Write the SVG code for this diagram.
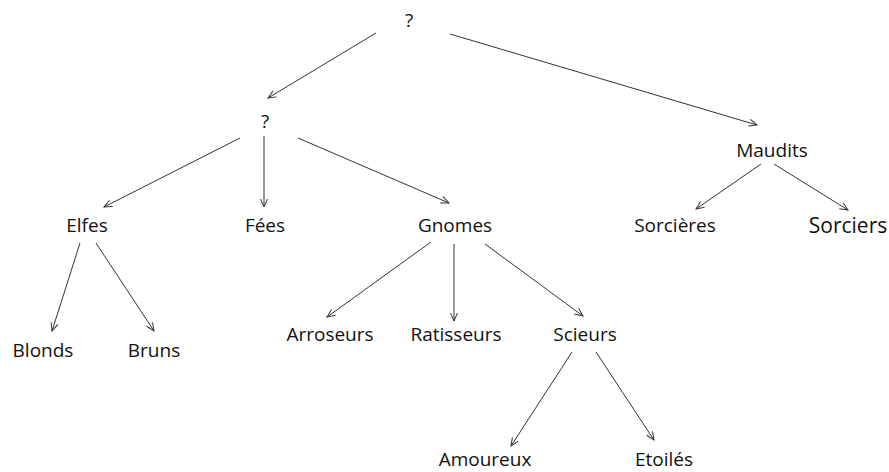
<svg xmlns="http://www.w3.org/2000/svg" width="889" height="472" viewBox="0 0 889 472">
<style>
text{font-family:"Open Sans","Liberation Sans",sans-serif;font-size:19px;fill:#111;text-anchor:middle}
.big{font-size:21px}
.c line{stroke:#333;stroke-width:1;marker-end:url(#ah)}
</style>
<defs>
<marker id="ah" markerUnits="userSpaceOnUse" markerWidth="10" markerHeight="10" refX="9" refY="4" orient="auto">
<path d="M1,0.5 L9,4 L1,7.5" fill="none" stroke="#333" stroke-width="1"/>
</marker>
</defs>
<rect width="889" height="472" fill="#fff"/>
<g class="c" id="connectors">
<line x1="376" y1="33" x2="268" y2="98"/>
<line x1="450" y1="34" x2="757" y2="125"/>
<line x1="240" y1="138" x2="104" y2="207"/>
<line x1="264" y1="136" x2="264" y2="207"/>
<line x1="298" y1="138" x2="449" y2="203"/>
<line x1="80" y1="243" x2="52" y2="331"/>
<line x1="96" y1="243" x2="154" y2="331"/>
<line x1="761" y1="164" x2="696" y2="209"/>
<line x1="774" y1="164" x2="848" y2="210"/>
<line x1="431" y1="242" x2="327" y2="317"/>
<line x1="454" y1="244" x2="454" y2="321"/>
<line x1="485" y1="244" x2="583" y2="316"/>
<line x1="572" y1="352" x2="511" y2="446"/>
<line x1="596" y1="352" x2="654" y2="440"/>
</g>
<g id="root"><text x="409" y="27">?</text></g>
<g id="q2"><text x="265" y="128">?</text></g>
<g id="maudits"><text x="772" y="157">Maudits</text></g>
<g id="elfes"><text x="87" y="232">Elfes</text></g>
<g id="fees"><text x="265" y="232">Fées</text></g>
<g id="gnomes"><text x="455" y="232">Gnomes</text></g>
<g id="sorcieres"><text x="675" y="232">Sorcières</text></g>
<g id="sorciers"><text class="big" x="848" y="233">Sorciers</text></g>
<g id="blonds"><text x="43" y="357">Blonds</text></g>
<g id="bruns"><text x="154" y="357">Bruns</text></g>
<g id="arroseurs"><text x="330" y="341">Arroseurs</text></g>
<g id="ratisseurs"><text x="456" y="341">Ratisseurs</text></g>
<g id="scieurs"><text x="585" y="341">Scieurs</text></g>
<g id="amoureux"><text x="485" y="466">Amoureux</text></g>
<g id="etoiles"><text x="664" y="466">Etoilés</text></g>
</svg>
